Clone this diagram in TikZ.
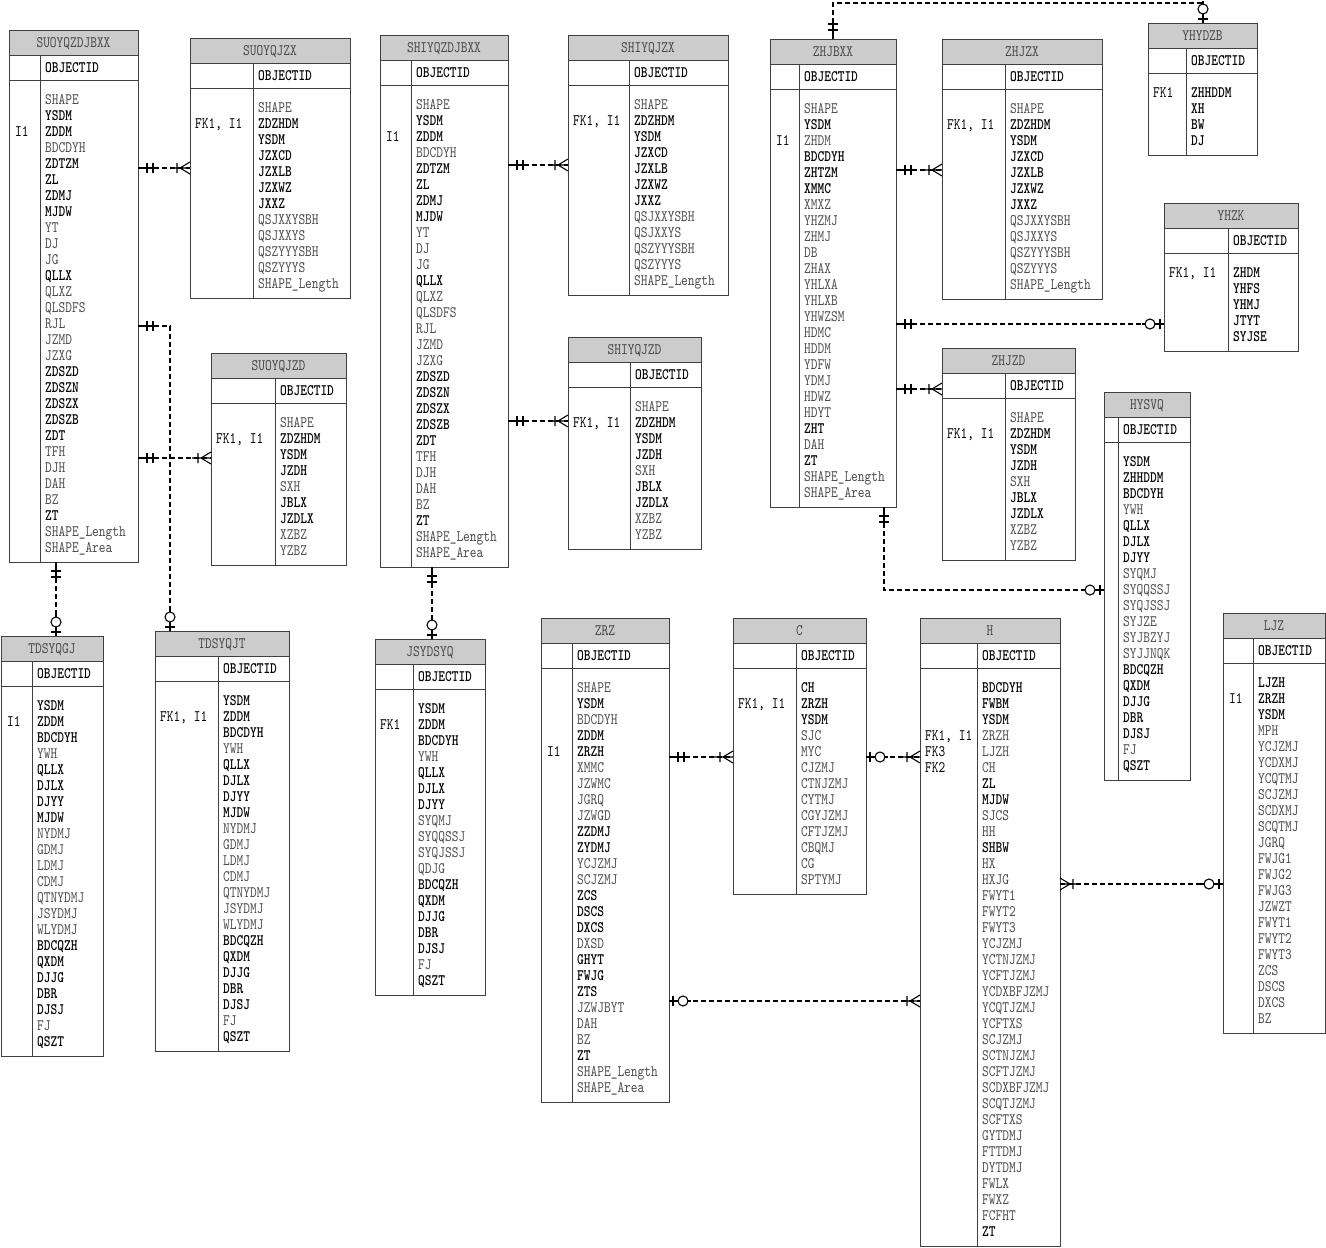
\documentclass[tikz,border=0pt]{standalone}
\usepackage{fontspec}
\newfontfamily\erfont{lmmono10-regular}[Extension=.otf,BoldFont=lmmonolt10-bold,FakeStretch=0.8]
\usetikzlibrary{positioning,calc}

\begin{document}
\begin{tikzpicture}[
  x=1pt,y=-1pt,
  hdr/.style={draw=black!75,line width=1pt,fill=black!20,anchor=north west,minimum height=25,inner sep=0pt,outer sep=0pt,
    text height=9pt,text depth=0pt,text=black!72,font=\erfont\fontsize{16}{16}\selectfont},
  tbl/.style={draw=black!75,line width=1pt,fill=white,inner sep=0pt,outer sep=0pt},
  sep/.style={black!75,line width=1pt},
  att/.style={anchor=base west,inner sep=0pt,text=black!70,font=\erfont\fontsize{16}{16}\selectfont},
  nn/.style={att,text=black,font=\erfont\bfseries\fontsize{16}{16}\selectfont},
  key/.style={att,text=black},
  rel/.style={line width=1.1pt,dash pattern=on 5pt off 3pt},
  one/.pic={\draw[solid,line width=1.1pt] (0,0) -- (19,0) (9,-5) -- (9,5) (15,-5) -- (15,5);},
  many/.pic={\draw[solid,line width=1.1pt] (0,0) -- (19,0) (0,-6) -- (10,0) -- (0,6) (13,-5) -- (13,5);},
  zone/.pic={\draw[solid,line width=1.1pt] (0,0) -- (9,0) (4,-5) -- (4,5) (19,0) -- (22,0);
    \draw[solid,line width=1.1pt,fill=white] (14,0) circle[radius=5];}
]
  \path[use as bounding box,fill=white] (0,0) rectangle (1326,1248);

  % SUOYQZDJBXX
  \node[hdr,minimum width=129] (suoT) at (9,30) {SUOYQZDJBXX};
  \node[tbl,minimum width=129,minimum height=507,below=0pt of suoT] (suo) {};
  \draw[sep] ([yshift=-25pt]suo.north west) -- ([yshift=-25pt]suo.north east)
    ([xshift=31pt]suo.north west) -- ([xshift=31pt]suo.south west);
  \node[nn] at ($(suo.north west)+(36,17)$) {OBJECTID};
  \node[key] at ($(suo.north west)+(6,81.5)$) {I1};
  \foreach \s/\t [count=\i] in {att/SHAPE,nn/YSDM,nn/ZDDM,att/BDCDYH,nn/ZDTZM,nn/ZL,nn/ZDMJ,nn/MJDW,att/YT,att/DJ,att/JG,nn/QLLX,att/QLXZ,att/QLSDFS,att/RJL,att/JZMD,att/JZXG,nn/ZDSZD,nn/ZDSZN,nn/ZDSZX,nn/ZDSZB,nn/ZDT,att/TFH,att/DJH,att/DAH,att/BZ,nn/ZT,att/SHAPE\_Length,att/SHAPE\_Area}
    \node[\s] at ($(suo.north west)+(36,33.5+16*\i)$) {\t};

  % SUOYQJZX
  \node[hdr,minimum width=160] (suozxT) at (190,38) {SUOYQJZX};
  \node[tbl,minimum width=160,minimum height=235,below=0pt of suozxT] (suozx) {};
  \draw[sep] ([yshift=-25pt]suozx.north west) -- ([yshift=-25pt]suozx.north east)
    ([xshift=63pt]suozx.north west) -- ([xshift=63pt]suozx.south west);
  \node[nn] at ($(suozx.north west)+(68,17)$) {OBJECTID};
  \node[key] at ($(suozx.north west)+(5,65.5)$) {FK1, I1};
  \foreach \s/\t [count=\i] in {att/SHAPE,nn/ZDZHDM,nn/YSDM,nn/JZXCD,nn/JZXLB,nn/JZXWZ,nn/JXXZ,att/QSJXXYSBH,att/QSJXXYS,att/QSZYYYSBH,att/QSZYYYS,att/SHAPE\_Length}
    \node[\s] at ($(suozx.north west)+(68,33.5+16*\i)$) {\t};

  % SUOYQJZD
  \node[hdr,minimum width=135] (suozdT) at (211,353) {SUOYQJZD};
  \node[tbl,minimum width=135,minimum height=187,below=0pt of suozdT] (suozd) {};
  \draw[sep] ([yshift=-25pt]suozd.north west) -- ([yshift=-25pt]suozd.north east)
    ([xshift=64pt]suozd.north west) -- ([xshift=64pt]suozd.south west);
  \node[nn] at ($(suozd.north west)+(69,17)$) {OBJECTID};
  \node[key] at ($(suozd.north west)+(5,65.5)$) {FK1, I1};
  \foreach \s/\t [count=\i] in {att/SHAPE,nn/ZDZHDM,nn/YSDM,nn/JZDH,att/SXH,nn/JBLX,nn/JZDLX,att/XZBZ,att/YZBZ}
    \node[\s] at ($(suozd.north west)+(69,33.5+16*\i)$) {\t};

  % TDSYQGJ
  \node[hdr,minimum width=102] (gjT) at (1,636) {TDSYQGJ};
  \node[tbl,minimum width=102,minimum height=395,below=0pt of gjT] (gj) {};
  \draw[sep] ([yshift=-25pt]gj.north west) -- ([yshift=-25pt]gj.north east)
    ([xshift=31pt]gj.north west) -- ([xshift=31pt]gj.south west);
  \node[nn] at ($(gj.north west)+(36,17)$) {OBJECTID};
  \node[key] at ($(gj.north west)+(6,65.5)$) {I1};
  \foreach \s/\t [count=\i] in {nn/YSDM,nn/ZDDM,nn/BDCDYH,att/YWH,nn/QLLX,nn/DJLX,nn/DJYY,nn/MJDW,att/NYDMJ,att/GDMJ,att/LDMJ,att/CDMJ,att/QTNYDMJ,att/JSYDMJ,att/WLYDMJ,nn/BDCQZH,nn/QXDM,nn/DJJG,nn/DBR,nn/DJSJ,att/FJ,nn/QSZT}
    \node[\s] at ($(gj.north west)+(36,33.5+16*\i)$) {\t};

  % TDSYQJT
  \node[hdr,minimum width=134] (jtT) at (155,631) {TDSYQJT};
  \node[tbl,minimum width=134,minimum height=395,below=0pt of jtT] (jt) {};
  \draw[sep] ([yshift=-25pt]jt.north west) -- ([yshift=-25pt]jt.north east)
    ([xshift=63pt]jt.north west) -- ([xshift=63pt]jt.south west);
  \node[nn] at ($(jt.north west)+(68,17)$) {OBJECTID};
  \node[key] at ($(jt.north west)+(5,65.5)$) {FK1, I1};
  \foreach \s/\t [count=\i] in {nn/YSDM,nn/ZDDM,nn/BDCDYH,att/YWH,nn/QLLX,nn/DJLX,nn/DJYY,nn/MJDW,att/NYDMJ,att/GDMJ,att/LDMJ,att/CDMJ,att/QTNYDMJ,att/JSYDMJ,att/WLYDMJ,nn/BDCQZH,nn/QXDM,nn/DJJG,nn/DBR,nn/DJSJ,att/FJ,nn/QSZT}
    \node[\s] at ($(jt.north west)+(68,33.5+16*\i)$) {\t};

  % SHIYQZDJBXX
  \node[hdr,minimum width=128] (shiT) at (380,35) {SHIYQZDJBXX};
  \node[tbl,minimum width=128,minimum height=507,below=0pt of shiT] (shi) {};
  \draw[sep] ([yshift=-25pt]shi.north west) -- ([yshift=-25pt]shi.north east)
    ([xshift=31pt]shi.north west) -- ([xshift=31pt]shi.south west);
  \node[nn] at ($(shi.north west)+(36,17)$) {OBJECTID};
  \node[key] at ($(shi.north west)+(6,81.5)$) {I1};
  \foreach \s/\t [count=\i] in {att/SHAPE,nn/YSDM,nn/ZDDM,att/BDCDYH,nn/ZDTZM,nn/ZL,nn/ZDMJ,nn/MJDW,att/YT,att/DJ,att/JG,nn/QLLX,att/QLXZ,att/QLSDFS,att/RJL,att/JZMD,att/JZXG,nn/ZDSZD,nn/ZDSZN,nn/ZDSZX,nn/ZDSZB,nn/ZDT,att/TFH,att/DJH,att/DAH,att/BZ,nn/ZT,att/SHAPE\_Length,att/SHAPE\_Area}
    \node[\s] at ($(shi.north west)+(36,33.5+16*\i)$) {\t};

  % SHIYQJZX
  \node[hdr,minimum width=160] (shizxT) at (568,35) {SHIYQJZX};
  \node[tbl,minimum width=160,minimum height=235,below=0pt of shizxT] (shizx) {};
  \draw[sep] ([yshift=-25pt]shizx.north west) -- ([yshift=-25pt]shizx.north east)
    ([xshift=61pt]shizx.north west) -- ([xshift=61pt]shizx.south west);
  \node[nn] at ($(shizx.north west)+(66,17)$) {OBJECTID};
  \node[key] at ($(shizx.north west)+(5,65.5)$) {FK1, I1};
  \foreach \s/\t [count=\i] in {att/SHAPE,nn/ZDZHDM,nn/YSDM,nn/JZXCD,nn/JZXLB,nn/JZXWZ,nn/JXXZ,att/QSJXXYSBH,att/QSJXXYS,att/QSZYYYSBH,att/QSZYYYS,att/SHAPE\_Length}
    \node[\s] at ($(shizx.north west)+(66,33.5+16*\i)$) {\t};

  % SHIYQJZD
  \node[hdr,minimum width=133] (shizdT) at (568,337) {SHIYQJZD};
  \node[tbl,minimum width=133,minimum height=187,below=0pt of shizdT] (shizd) {};
  \draw[sep] ([yshift=-25pt]shizd.north west) -- ([yshift=-25pt]shizd.north east)
    ([xshift=62pt]shizd.north west) -- ([xshift=62pt]shizd.south west);
  \node[nn] at ($(shizd.north west)+(67,17)$) {OBJECTID};
  \node[key] at ($(shizd.north west)+(5,65.5)$) {FK1, I1};
  \foreach \s/\t [count=\i] in {att/SHAPE,nn/ZDZHDM,nn/YSDM,nn/JZDH,att/SXH,nn/JBLX,nn/JZDLX,att/XZBZ,att/YZBZ}
    \node[\s] at ($(shizd.north west)+(67,33.5+16*\i)$) {\t};

  % JSYDSYQ
  \node[hdr,minimum width=110] (jsyT) at (375,639) {JSYDSYQ};
  \node[tbl,minimum width=110,minimum height=331,below=0pt of jsyT] (jsy) {};
  \draw[sep] ([yshift=-25pt]jsy.north west) -- ([yshift=-25pt]jsy.north east)
    ([xshift=38pt]jsy.north west) -- ([xshift=38pt]jsy.south west);
  \node[nn] at ($(jsy.north west)+(43,17)$) {OBJECTID};
  \node[key] at ($(jsy.north west)+(5,65.5)$) {FK1};
  \foreach \s/\t [count=\i] in {nn/YSDM,nn/ZDDM,nn/BDCDYH,att/YWH,nn/QLLX,nn/DJLX,nn/DJYY,att/SYQMJ,att/SYQQSSJ,att/SYQJSSJ,att/QDJG,nn/BDCQZH,nn/QXDM,nn/DJJG,nn/DBR,nn/DJSJ,att/FJ,nn/QSZT}
    \node[\s] at ($(jsy.north west)+(43,33.5+16*\i)$) {\t};

  % ZHJBXX
  \node[hdr,minimum width=126] (zhT) at (770,39) {ZHJBXX};
  \node[tbl,minimum width=126,minimum height=443,below=0pt of zhT] (zh) {};
  \draw[sep] ([yshift=-25pt]zh.north west) -- ([yshift=-25pt]zh.north east)
    ([xshift=29pt]zh.north west) -- ([xshift=29pt]zh.south west);
  \node[nn] at ($(zh.north west)+(34,17)$) {OBJECTID};
  \node[key] at ($(zh.north west)+(6,81.5)$) {I1};
  \foreach \s/\t [count=\i] in {att/SHAPE,nn/YSDM,att/ZHDM,nn/BDCDYH,nn/ZHTZM,nn/XMMC,att/XMXZ,att/YHZMJ,att/ZHMJ,att/DB,att/ZHAX,att/YHLXA,att/YHLXB,att/YHWZSM,att/HDMC,att/HDDM,att/YDFW,att/YDMJ,att/HDWZ,att/HDYT,nn/ZHT,att/DAH,nn/ZT,att/SHAPE\_Length,att/SHAPE\_Area}
    \node[\s] at ($(zh.north west)+(34,33.5+16*\i)$) {\t};

  % ZHJZX
  \node[hdr,minimum width=160] (zhzxT) at (942,39) {ZHJZX};
  \node[tbl,minimum width=160,minimum height=235,below=0pt of zhzxT] (zhzx) {};
  \draw[sep] ([yshift=-25pt]zhzx.north west) -- ([yshift=-25pt]zhzx.north east)
    ([xshift=63pt]zhzx.north west) -- ([xshift=63pt]zhzx.south west);
  \node[nn] at ($(zhzx.north west)+(68,17)$) {OBJECTID};
  \node[key] at ($(zhzx.north west)+(5,65.5)$) {FK1, I1};
  \foreach \s/\t [count=\i] in {att/SHAPE,nn/ZDZHDM,nn/YSDM,nn/JZXCD,nn/JZXLB,nn/JZXWZ,nn/JXXZ,att/QSJXXYSBH,att/QSJXXYS,att/QSZYYYSBH,att/QSZYYYS,att/SHAPE\_Length}
    \node[\s] at ($(zhzx.north west)+(68,33.5+16*\i)$) {\t};

  % ZHJZD
  \node[hdr,minimum width=133] (zhzdT) at (942,348) {ZHJZD};
  \node[tbl,minimum width=133,minimum height=187,below=0pt of zhzdT] (zhzd) {};
  \draw[sep] ([yshift=-25pt]zhzd.north west) -- ([yshift=-25pt]zhzd.north east)
    ([xshift=63pt]zhzd.north west) -- ([xshift=63pt]zhzd.south west);
  \node[nn] at ($(zhzd.north west)+(68,17)$) {OBJECTID};
  \node[key] at ($(zhzd.north west)+(5,65.5)$) {FK1, I1};
  \foreach \s/\t [count=\i] in {att/SHAPE,nn/ZDZHDM,nn/YSDM,nn/JZDH,att/SXH,nn/JBLX,nn/JZDLX,att/XZBZ,att/YZBZ}
    \node[\s] at ($(zhzd.north west)+(68,33.5+16*\i)$) {\t};

  % YHYDZB
  \node[hdr,minimum width=109] (ydT) at (1148,23) {YHYDZB};
  \node[tbl,minimum width=109,minimum height=107,below=0pt of ydT] (yd) {};
  \draw[sep] ([yshift=-25pt]yd.north west) -- ([yshift=-25pt]yd.north east)
    ([xshift=38pt]yd.north west) -- ([xshift=38pt]yd.south west);
  \node[nn] at ($(yd.north west)+(43,17)$) {OBJECTID};
  \node[key] at ($(yd.north west)+(5,49.5)$) {FK1};
  \foreach \s/\t [count=\i] in {nn/ZHHDDM,nn/XH,nn/BW,nn/DJ}
    \node[\s] at ($(yd.north west)+(43,33.5+16*\i)$) {\t};

  % YHZK
  \node[hdr,minimum width=134] (yhT) at (1164,203) {YHZK};
  \node[tbl,minimum width=134,minimum height=123,below=0pt of yhT] (yh) {};
  \draw[sep] ([yshift=-25pt]yh.north west) -- ([yshift=-25pt]yh.north east)
    ([xshift=64pt]yh.north west) -- ([xshift=64pt]yh.south west);
  \node[nn] at ($(yh.north west)+(69,17)$) {OBJECTID};
  \node[key] at ($(yh.north west)+(5,49.5)$) {FK1, I1};
  \foreach \s/\t [count=\i] in {nn/ZHDM,nn/YHFS,nn/YHMJ,nn/JTYT,nn/SYJSE}
    \node[\s] at ($(yh.north west)+(69,33.5+16*\i)$) {\t};

  % HYSVQ
  \node[hdr,minimum width=86] (hysT) at (1104,392) {HYSVQ};
  \node[tbl,minimum width=86,minimum height=363,below=0pt of hysT] (hys) {};
  \draw[sep] ([yshift=-25pt]hys.north west) -- ([yshift=-25pt]hys.north east)
    ([xshift=14pt]hys.north west) -- ([xshift=14pt]hys.south west);
  \node[nn] at ($(hys.north west)+(19,17)$) {OBJECTID};
  \foreach \s/\t [count=\i] in {nn/YSDM,nn/ZHHDDM,nn/BDCDYH,att/YWH,nn/QLLX,nn/DJLX,nn/DJYY,att/SYQMJ,att/SYQQSSJ,att/SYQJSSJ,att/SYJZE,att/SYJBZYJ,att/SYJJNQK,nn/BDCQZH,nn/QXDM,nn/DJJG,nn/DBR,nn/DJSJ,att/FJ,nn/QSZT}
    \node[\s] at ($(hys.north west)+(19,33.5+16*\i)$) {\t};

  % ZRZ
  \node[hdr,minimum width=128] (zrzT) at (541,618) {ZRZ};
  \node[tbl,minimum width=128,minimum height=459,below=0pt of zrzT] (zrz) {};
  \draw[sep] ([yshift=-25pt]zrz.north west) -- ([yshift=-25pt]zrz.north east)
    ([xshift=31pt]zrz.north west) -- ([xshift=31pt]zrz.south west);
  \node[nn] at ($(zrz.north west)+(36,17)$) {OBJECTID};
  \node[key] at ($(zrz.north west)+(6,113.5)$) {I1};
  \foreach \s/\t [count=\i] in {att/SHAPE,nn/YSDM,att/BDCDYH,nn/ZDDM,nn/ZRZH,att/XMMC,att/JZWMC,att/JGRQ,att/JZWGD,nn/ZZDMJ,nn/ZYDMJ,att/YCJZMJ,att/SCJZMJ,nn/ZCS,nn/DSCS,nn/DXCS,att/DXSD,nn/GHYT,nn/FWJG,nn/ZTS,att/JZWJBYT,att/DAH,att/BZ,nn/ZT,att/SHAPE\_Length,att/SHAPE\_Area}
    \node[\s] at ($(zrz.north west)+(36,33.5+16*\i)$) {\t};

  % C
  \node[hdr,minimum width=133] (cT) at (733,618) {C};
  \node[tbl,minimum width=133,minimum height=251,below=0pt of cT] (cc) {};
  \draw[sep] ([yshift=-25pt]cc.north west) -- ([yshift=-25pt]cc.north east)
    ([xshift=63pt]cc.north west) -- ([xshift=63pt]cc.south west);
  \node[nn] at ($(cc.north west)+(68,17)$) {OBJECTID};
  \node[key] at ($(cc.north west)+(5,65.5)$) {FK1, I1};
  \foreach \s/\t [count=\i] in {nn/CH,nn/ZRZH,nn/YSDM,att/SJC,att/MYC,att/CJZMJ,att/CTNJZMJ,att/CYTMJ,att/CGYJZMJ,att/CFTJZMJ,att/CBQMJ,att/CG,att/SPTYMJ}
    \node[\s] at ($(cc.north west)+(68,33.5+16*\i)$) {\t};

  % H
  \node[hdr,minimum width=140] (hT) at (920,618) {H};
  \node[tbl,minimum width=140,minimum height=603,below=0pt of hT] (hh) {};
  \draw[sep] ([yshift=-25pt]hh.north west) -- ([yshift=-25pt]hh.north east)
    ([xshift=57pt]hh.north west) -- ([xshift=57pt]hh.south west);
  \node[nn] at ($(hh.north west)+(62,17)$) {OBJECTID};
  \node[key] at ($(hh.north west)+(5,97.5)$) {FK1, I1};
  \node[key] at ($(hh.north west)+(5,113.5)$) {FK3};
  \node[key] at ($(hh.north west)+(5,129.5)$) {FK2};
  \foreach \s/\t [count=\i] in {nn/BDCDYH,nn/FWBM,nn/YSDM,att/ZRZH,att/LJZH,att/CH,nn/ZL,nn/MJDW,att/SJCS,att/HH,nn/SHBW,att/HX,att/HXJG,att/FWYT1,att/FWYT2,att/FWYT3,att/YCJZMJ,att/YCTNJZMJ,att/YCFTJZMJ,att/YCDXBFJZMJ,att/YCQTJZMJ,att/YCFTXS,att/SCJZMJ,att/SCTNJZMJ,att/SCFTJZMJ,att/SCDXBFJZMJ,att/SCQTJZMJ,att/SCFTXS,att/GYTDMJ,att/FTTDMJ,att/DYTDMJ,att/FWLX,att/FWXZ,att/FCFHT,nn/ZT}
    \node[\s] at ($(hh.north west)+(62,33.5+16*\i)$) {\t};

  % LJZ
  \node[hdr,minimum width=102] (ljzT) at (1223,613) {LJZ};
  \node[tbl,minimum width=102,minimum height=395,below=0pt of ljzT] (ljz) {};
  \draw[sep] ([yshift=-25pt]ljz.north west) -- ([yshift=-25pt]ljz.north east)
    ([xshift=30pt]ljz.north west) -- ([xshift=30pt]ljz.south west);
  \node[nn] at ($(ljz.north west)+(35,17)$) {OBJECTID};
  \node[key] at ($(ljz.north west)+(6,65.5)$) {I1};
  \foreach \s/\t [count=\i] in {nn/LJZH,nn/ZRZH,nn/YSDM,att/MPH,att/YCJZMJ,att/YCDXMJ,att/YCQTMJ,att/SCJZMJ,att/SCDXMJ,att/SCQTMJ,att/JGRQ,att/FWJG1,att/FWJG2,att/FWJG3,att/JZWZT,att/FWYT1,att/FWYT2,att/FWYT3,att/ZCS,att/DSCS,att/DXCS,att/BZ}
    \node[\s] at ($(ljz.north west)+(35,33.5+16*\i)$) {\t};

  % relationships
  \draw[rel] (suo.east |- 0,168) -- (suozx.west |- 0,168);
  \draw[rel] (suo.east |- 0,326) -| ([xshift=15pt]jtT.north west);
  \draw[rel] (suo.east |- 0,458) -- (suozd.west |- 0,458);
  \draw[rel] (56,0 |- suo.south) -- (56,0 |- gjT.north);
  \draw[rel] (shi.east |- 0,165) -- (shizx.west |- 0,165);
  \draw[rel] (shi.east |- 0,421) -- (shizd.west |- 0,421);
  \draw[rel] (432,0 |- shi.south) -- (432,0 |- jsyT.north);
  \draw[rel] (833,0 |- zhT.north) |- (1203,3) -- (1203,0 |- ydT.north);
  \draw[rel] (zh.east |- 0,170) -- (zhzx.west |- 0,170);
  \draw[rel] (zh.east |- 0,324) -- (yh.west |- 0,324);
  \draw[rel] (zh.east |- 0,389) -- (zhzd.west |- 0,389);
  \draw[rel] (884,0 |- zh.south) |- (hys.west |- 0,590);
  \draw[rel] (zrz.east |- 0,757) -- (cc.west |- 0,757);
  \draw[rel] (cc.east |- 0,757) -- (hh.west |- 0,757);
  \draw[rel] (zrz.east |- 0,1001) -- (hh.west |- 0,1001);
  \draw[rel] (hh.east |- 0,884) -- (ljz.west |- 0,884);

  % end marks
  \pic at (suo.east |- 0,168) {one};
  \pic[rotate=180] at (suozx.west |- 0,168) {many};
  \pic at (suo.east |- 0,326) {one};
  \pic[rotate=90] at ([xshift=15pt]jtT.north west) {zone};
  \pic at (suo.east |- 0,458) {one};
  \pic[rotate=180] at (suozd.west |- 0,458) {many};
  \pic[rotate=-90] at (56,0 |- suo.south) {one};
  \pic[rotate=90] at (56,0 |- gjT.north) {zone};
  \pic at (shi.east |- 0,165) {one};
  \pic[rotate=180] at (shizx.west |- 0,165) {many};
  \pic at (shi.east |- 0,421) {one};
  \pic[rotate=180] at (shizd.west |- 0,421) {many};
  \pic[rotate=-90] at (432,0 |- shi.south) {one};
  \pic[rotate=90] at (432,0 |- jsyT.north) {zone};
  \pic[rotate=90] at (833,0 |- zhT.north) {one};
  \pic[rotate=90] at (1203,0 |- ydT.north) {zone};
  \pic at (zh.east |- 0,170) {one};
  \pic[rotate=180] at (zhzx.west |- 0,170) {many};
  \pic at (zh.east |- 0,324) {one};
  \pic[rotate=180] at (yh.west |- 0,324) {zone};
  \pic at (zh.east |- 0,389) {one};
  \pic[rotate=180] at (zhzd.west |- 0,389) {many};
  \pic[rotate=-90] at (884,0 |- zh.south) {one};
  \pic[rotate=180] at (hys.west |- 0,590) {zone};
  \pic at (zrz.east |- 0,757) {one};
  \pic[rotate=180] at (cc.west |- 0,757) {many};
  \pic at (cc.east |- 0,757) {zone};
  \pic[rotate=180] at (hh.west |- 0,757) {many};
  \pic at (zrz.east |- 0,1001) {zone};
  \pic[rotate=180] at (hh.west |- 0,1001) {many};
  \pic at (hh.east |- 0,884) {many};
  \pic[rotate=180] at (ljz.west |- 0,884) {zone};
\end{tikzpicture}
\end{document}
